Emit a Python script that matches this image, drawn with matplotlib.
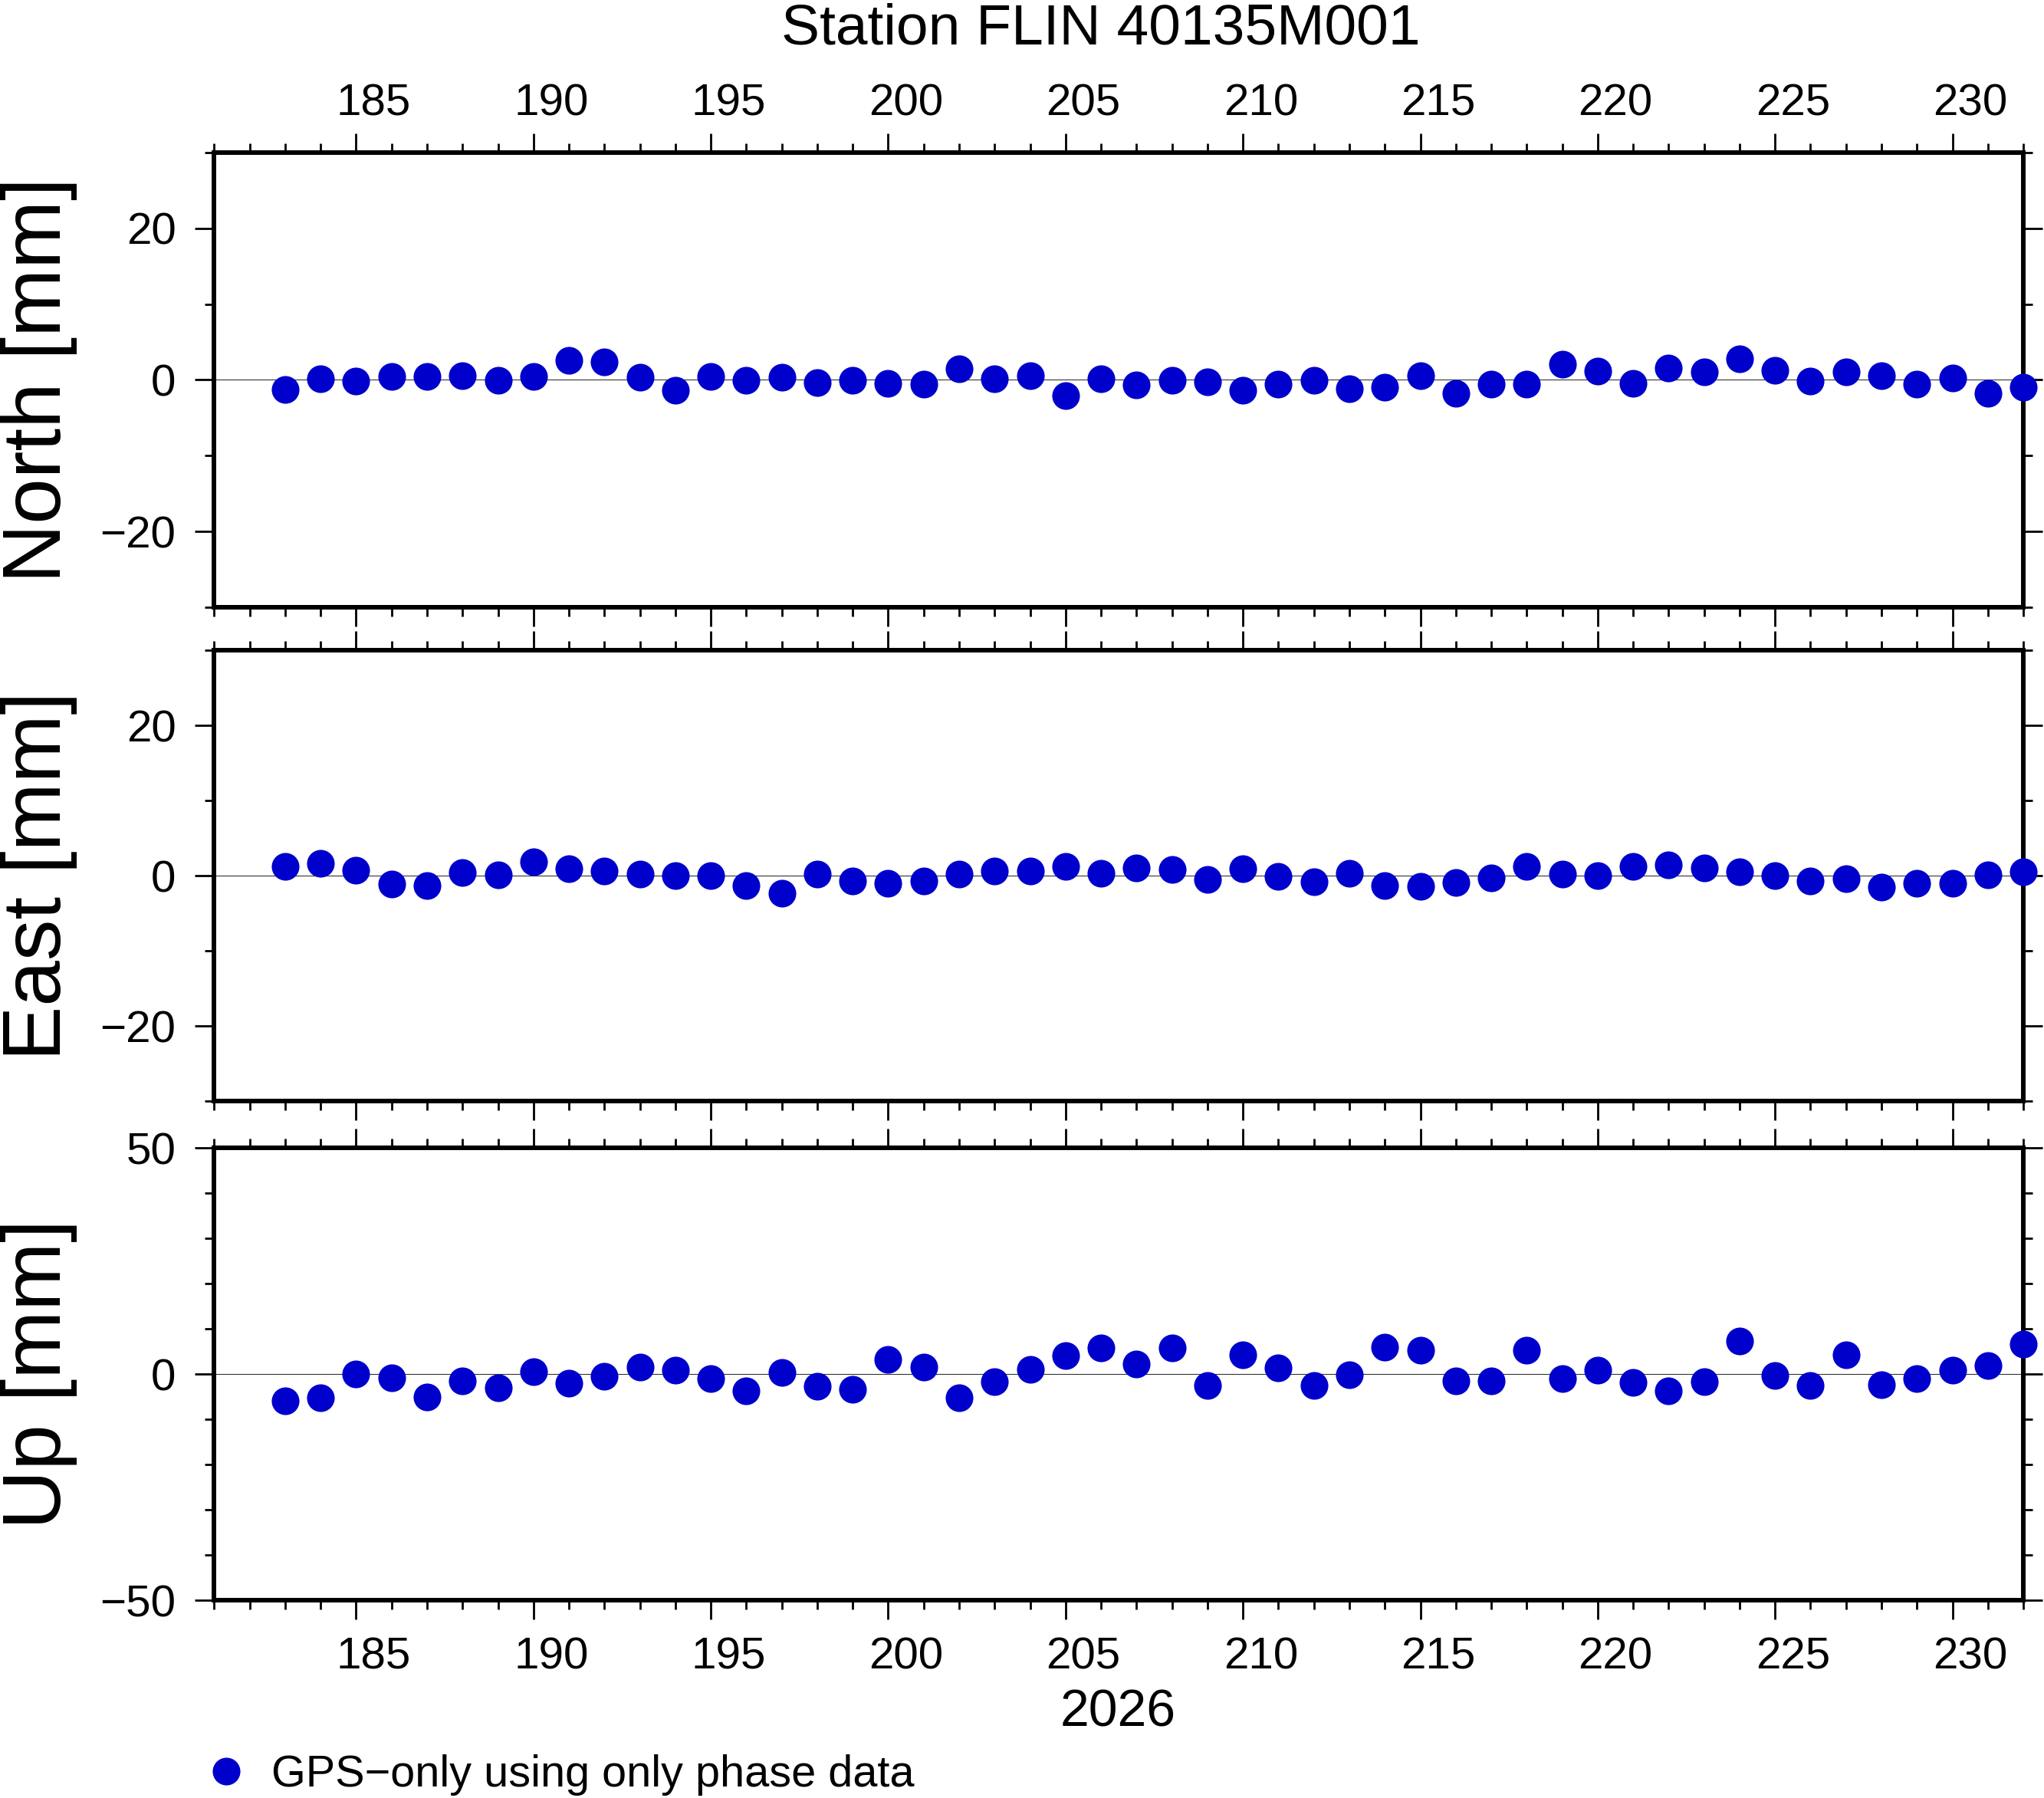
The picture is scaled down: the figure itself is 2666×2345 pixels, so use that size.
import matplotlib.pyplot as plt
from matplotlib.ticker import MultipleLocator
from matplotlib.transforms import ScaledTranslation

plt.rcParams['font.family'] = ['Liberation Sans', 'DejaVu Sans']

# day of year 2026
days = list(range(183, 233))

north = [-1.3, 0.1, -0.2, 0.4, 0.4, 0.5, -0.1, 0.4, 2.6, 2.4,
         0.3, -1.4, 0.4, -0.1, 0.3, -0.4, -0.1, -0.5, -0.6, 1.5,
         0.1, 0.5, -2.1, 0.1, -0.7, -0.1, -0.3, -1.4, -0.6, -0.1,
         -1.2, -1.0, 0.5, -1.8, -0.6, -0.6, 2.1, 1.2, -0.5, 1.6,
         1.0, 2.8, 1.3, -0.2, 1.1, 0.5, -0.6, 0.2, -1.8, -1.0]

east = [1.2, 1.6, 0.7, -1.1, -1.3, 0.4, 0.1, 1.9, 0.9, 0.6,
        0.2, 0.0, 0.0, -1.3, -2.3, 0.2, -0.7, -1.0, -0.7, 0.2,
        0.6, 0.6, 1.2, 0.3, 1.0, 0.8, -0.5, 0.9, -0.1, -0.8,
        0.3, -1.3, -1.4, -0.9, -0.3, 1.2, 0.2, 0.0, 1.2, 1.4,
        1.0, 0.5, 0.0, -0.7, -0.4, -1.5, -1.0, -1.0, 0.1, 0.5]

up = [-5.9, -5.3, 0.0, -0.9, -5.1, -1.5, -3.0, 0.5, -2.1, -0.5,
      1.5, 0.8, -1.0, -3.8, 0.4, -2.7, -3.3, 3.3, 1.6, -5.3,
      -1.7, 1.0, 4.0, 5.8, 2.2, 5.8, -2.5, 4.2, 1.4, -2.5,
      -0.2, 6.0, 5.3, -1.6, -1.5, 5.3, -1.0, 0.9, -1.9, -3.7,
      -1.7, 7.3, -0.3, -2.6, 4.3, -2.4, -1.0, 0.8, 1.9, 6.6]

components = [('North [mm]', north, 30, 20), ('East [mm]', east, 30, 20), ('Up [mm]', up, 50, 50)]
panel_rect = [(0.1048, 0.6623, 0.8851, 0.2529),
              (0.1048, 0.3876, 0.8851, 0.2507),
              (0.1048, 0.1100, 0.8851, 0.2516)]
day_range = (181, 232)

blue = '#0000cc'
fig = plt.figure(figsize=(26.66, 23.45), dpi=100)

# shift day annotations to the middle of each day interval
day_width_in = panel_rect[0][2] * fig.get_figwidth() / (day_range[1] - day_range[0])
half_day = ScaledTranslation(day_width_in / 2, 0, fig.dpi_scale_trans)

axes = []
for i, (label, vals, lim, major) in enumerate(components):
    ax = fig.add_axes(panel_rect[i])
    pts = ax.plot(days, vals, 'o', color=blue, markersize=26, markeredgewidth=0, clip_on=False, zorder=3)
    ax.axhline(0, color='#333333', lw=0.8, zorder=1)
    ax.set_xlim(*day_range)
    ax.set_ylim(-lim, lim)
    ax.xaxis.set_major_locator(MultipleLocator(5))
    ax.xaxis.set_minor_locator(MultipleLocator(1))
    ax.yaxis.set_major_locator(MultipleLocator(major))
    ax.yaxis.set_minor_locator(MultipleLocator(10))
    for s in ax.spines.values():
        s.set_linewidth(4.3)
    ax.tick_params(which='both', direction='out', top=True, bottom=True, left=True, right=True,
                   labelbottom=(i == 2), labeltop=(i == 0), labelleft=True, labelright=False,
                   width=2, labelsize=42)
    ax.tick_params(which='major', length=18)
    ax.tick_params(which='minor', length=8.6)
    ax.tick_params(axis='x', pad=(8 if i == 0 else 16))
    ax.tick_params(axis='y', pad=18)
    for tick in ax.xaxis.get_major_ticks():
        tick.label1.set_transform(tick.label1.get_transform() + half_day)
        tick.label2.set_transform(tick.label2.get_transform() + half_day)
    y_mid = panel_rect[i][1] + panel_rect[i][3] / 2
    fig.text(0.0003, y_mid, label, rotation=90, ha='left', va='center', fontsize=77)
    axes.append(ax)

fig.text(1436 / 2666, 1 - 58 / 2345, 'Station FLIN 40135M001', ha='center', va='baseline', fontsize=54)
fig.text(1458 / 2666, 1 - 2252 / 2345, '2026', ha='center', va='baseline', fontsize=49)

fig.legend(handles=pts, labels=['GPS\u2212only using only phase data'], loc='center left',
           bbox_to_anchor=(272 / 2666, 1 - 2315 / 2345), frameon=False, fontsize=41.5,
           borderpad=0, borderaxespad=0, handlelength=0.8, handletextpad=0.62)

fig.savefig('out.png', dpi=100)
